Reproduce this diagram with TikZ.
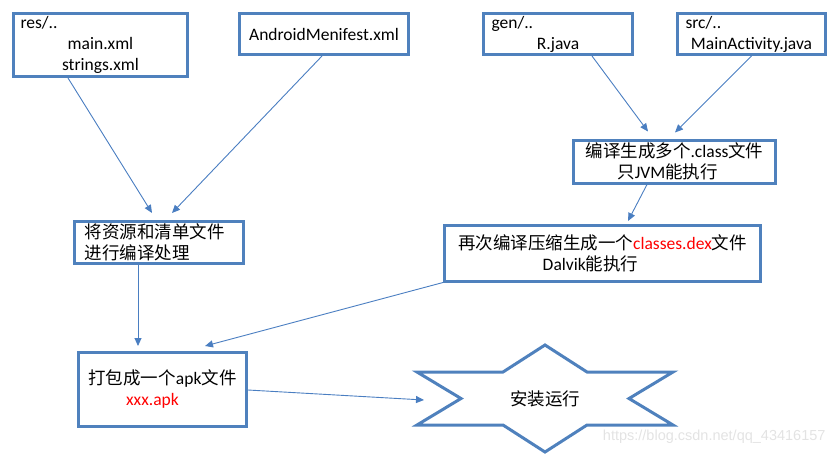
\documentclass[tikz,border=0pt]{standalone}
\usepackage{fontspec}
\setmainfont{Carlito}
\newfontfamily\cjk{Noto Sans CJK SC}
\newfontfamily\wmfont{Liberation Sans}
\newcommand{\zh}[1]{{\cjk #1}}
\newcommand{\lline}[1]{\makebox[\linewidth][l]{#1}}
\usetikzlibrary{
  arrows.meta,
  positioning,
  calc
}
\definecolor{boxblue}{RGB}{79,129,189}
\definecolor{lineblue}{RGB}{74,126,193}
\definecolor{apkred}{RGB}{255,0,0}

\begin{document}
\begin{tikzpicture}[
  x=1pt, y=-1pt,
  box/.style={draw=boxblue, line width=3pt, inner sep=0pt, font=\fontsize{17.5}{21}\selectfont},
  arr/.style={draw=lineblue, line width=0.9pt, -{Triangle[length=8pt,width=7pt]}},
  wm/.style={text=gray!22, font=\wmfont\fontsize{14.5}{16}\selectfont}
]
  \useasboundingbox (0,0) rectangle (837,456);

  % source folders
  \node[box, minimum width=174pt, minimum height=63pt, text width=160pt, align=center] (res) at (100.5,45)
    {\lline{res/..}\\main.xml\\strings.xml};
  \node[box, minimum width=169pt, minimum height=41pt, align=center] (manifest) at (324,34)
    {AndroidMenifest.xml};
  \node[box, minimum width=149pt, minimum height=41pt, text width=133pt, align=center] (gen) at (558,34)
    {\lline{gen/..}\\R.java};
  \node[box, minimum width=148pt, minimum height=41pt, text width=132pt, align=center] (src) at (751.5,34)
    {\lline{src/..}\\MainActivity.java};

  % compile steps
  \node[box, minimum width=202pt, minimum height=43pt, align=center] (cls) at (674.5,161.5)
    {\zh{编译生成多个}.class\zh{文件}\\\hspace*{-14pt}\zh{只}JVM\zh{能执行}};
  \node[box, minimum width=169pt, minimum height=42pt, text width=149pt, align=left] (resc) at (159,242.5)
    {\zh{将资源和清单文件}\\\zh{进行编译处理}};
  \node[box, minimum width=316pt, minimum height=56pt, align=center] (dex) at (602.5,253)
    {\zh{再次编译压缩生成一个}\textcolor{apkred}{classes.dex}\zh{文件}\\\hspace*{-24pt}Dalvik\zh{能执行}};

  % package and install
  \node[box, minimum width=168pt, minimum height=74pt, align=center] (apk) at (162.5,389)
    {\zh{打包成一个}apk\zh{文件}\\\hspace*{-20pt}\textcolor{apkred}{xxx.apk}};
  \node[font=\fontsize{17.5}{21}\selectfont] (inst) at (545,398.5) {\zh{安装运行}};
  \draw[draw=boxblue, line width=3pt] (inst.center)
    +(-128,-26.5) -- +(-42,-26.5) -- +(0,-53.5) -- +(42,-26.5) -- +(128,-26.5) -- +(84,0)
    -- +(128,26.5) -- +(42,26.5) -- +(0,53.5) -- +(-42,26.5) -- +(-128,26.5) -- +(-84,0) -- cycle;

  % connectors
  \draw[arr] ([xshift=-32.5pt]res.south) -- ([xshift=-7pt,yshift=7pt]resc.north);
  \draw[arr] ([xshift=-2pt]manifest.south) -- ([xshift=13pt,yshift=7pt]resc.north);
  \draw[arr] ([xshift=34pt]gen.south) -- ([xshift=-26.5pt,yshift=7pt]cls.north);
  \draw[arr] (src.south) -- ([xshift=0.5pt,yshift=6pt]cls.north);
  \draw[arr] ([xshift=-27.5pt]cls.south) -- ([xshift=25.5pt,yshift=2.5pt]dex.north);
  \draw[arr] ([xshift=-21pt]resc.south) -- ([xshift=-24.5pt,yshift=4.5pt]apk.north);
  \draw[arr] (dex.south west) -- ([xshift=42.5pt,yshift=4.5pt]apk.north);
  \draw[arr] ([yshift=-1pt]apk.east) -- ([xshift=-121pt,yshift=-1.5pt]inst.center);

  \node[wm, anchor=east] (wmark) at (829,437) {https://blog.csdn.net/qq\_43416157};
\end{tikzpicture}
\end{document}
